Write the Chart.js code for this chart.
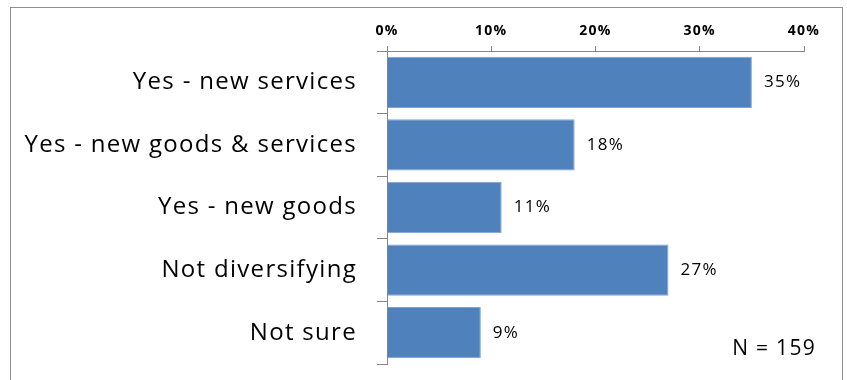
<!DOCTYPE html>
<html>
<head>
<meta charset="utf-8">
<script src="https://cdn.jsdelivr.net/npm/chart.js@4/dist/chart.umd.min.js"></script>
<style>
    body { margin: 0; background: #fff; }
    #wrap { position: relative; width: 847px; height: 380px; overflow: hidden; }
    #frame { position: absolute; left: 10px; top: 7px; width: 831px; height: 420px; border: 1px solid #8e8e8e; }
    #chart { position: absolute; left: 0; top: 0; }
</style>
</head>
<body>
<div id="wrap">
    <div id="frame"></div>
    <canvas id="chart" width="847" height="380"></canvas>
</div>
<script>
// Survey answers and share of respondents (%)
const categories = ['Yes - new services', 'Yes - new goods & services', 'Yes - new goods', 'Not diversifying', 'Not sure'];
const shares = [35, 18, 11, 27, 9];
const axisTicks = [0, 10, 20, 30, 40];
const sampleNote = 'N = 159';

const labelFont = '"Open Sans", "Noto Sans", sans-serif';
const axisGrey = '#868686';

// Slightly wider lettering for all text on the canvas
const wideText = {
    id: 'wideText',
    beforeDraw(chart) {
        chart.ctx.letterSpacing = '1.3px';
    }
};

// Percent labels at the end of each bar, plus the sample size note
const barLabels = {
    id: 'barLabels',
    afterDatasetsDraw(chart) {
        const ctx = chart.ctx;
        const meta = chart.getDatasetMeta(0);
        ctx.save();
        ctx.letterSpacing = '1.3px';
        ctx.fillStyle = '#000';
        ctx.font = '17px ' + labelFont;
        ctx.textBaseline = 'middle';
        ctx.textAlign = 'left';
        meta.data.forEach((bar, i) => {
            ctx.fillText(shares[i] + '%', bar.x + 12, bar.y);
        });
        ctx.font = '21px ' + labelFont;
        ctx.textAlign = 'right';
        ctx.fillText(sampleNote, 816, 349);
        ctx.restore();
    }
};

const ctx = document.getElementById('chart').getContext('2d');
const chart = new Chart(ctx, {
    type: 'bar',
    data: {
        labels: categories,
        datasets: [{
            data: shares,
            backgroundColor: '#4f81bd',
            borderColor: '#7ea3d0',
            borderWidth: 1,
            barPercentage: 0.82,
            categoryPercentage: 1
        }]
    },
    options: {
        indexAxis: 'y',
        responsive: false,
        animation: false,
        layout: { padding: { left: 0, top: 0, right: 43, bottom: 16 } },
        scales: {
            x: {
                position: 'top',
                min: 0,
                max: 40,
                afterBuildTicks(scale) {
                    scale.ticks = axisTicks.map(v => ({ value: v }));
                },
                afterFit(scale) { scale.height = 51; },
                grid: { drawOnChartArea: false, drawTicks: true, tickLength: 5, color: axisGrey },
                border: { display: true, color: axisGrey },
                ticks: {
                    padding: 7,
                    color: '#000',
                    font: { family: labelFont, size: 14, weight: 'bold' },
                    callback: v => v + '%'
                }
            },
            y: {
                afterFit(scale) {
                    scale.width = 387;
                    scale.paddingTop = 0;
                    scale.paddingBottom = 0;
                },
                grid: { offset: true, drawOnChartArea: false, drawTicks: true, tickLength: 10, color: axisGrey },
                border: { display: true, color: axisGrey },
                ticks: {
                    padding: 20,
                    color: '#000',
                    font: { family: labelFont, size: 24 }
                }
            }
        },
        plugins: {
            legend: { display: false },
            tooltip: { enabled: false }
        }
    },
    plugins: [wideText, barLabels]
});
</script>
</body>
</html>
